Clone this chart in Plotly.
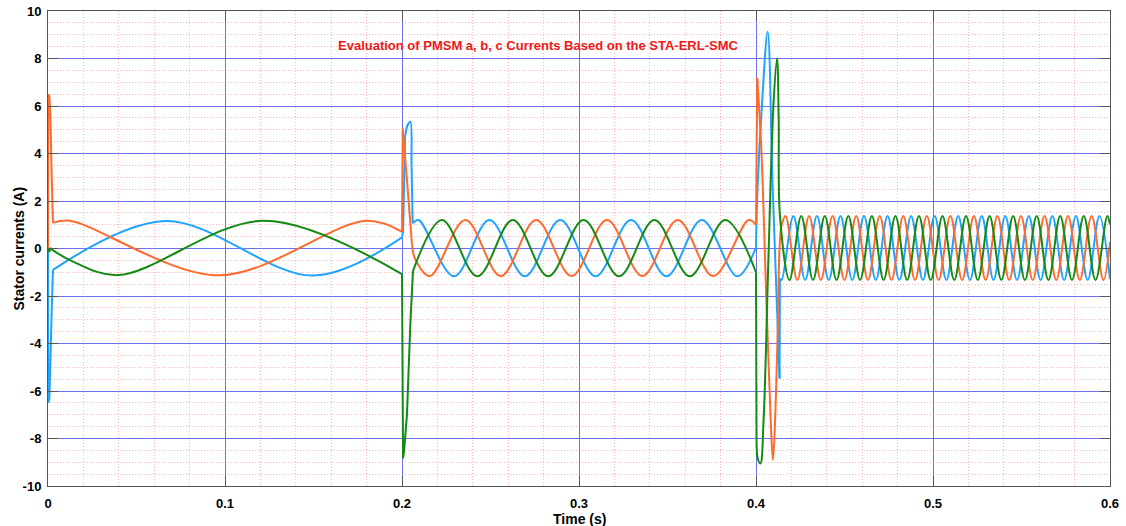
import plotly.graph_objects as go

# ---------------- data ----------------
# Phase a (orange)
a_t_start = [0, 0.0002, 0.0008, 0.0014, 0.0021, 0.0028]
a_v_start = [0, 6.5, 6.4, 5.4, 3.0, 1.08]
a_t_seg1 = [0.0028, 0.0123, 0.0965, 0.1800, 0.2000]
a_v_seg1 = [1.08, 1.17, -1.13, 1.17, 0.70]
a_t_jump2 = [0.2000, 0.2002, 0.2004, 0.2030, 0.2056]
a_v_jump2 = [0.70, 4.6, 5.06, 2.7, 0.2]
a_t_seg2 = [0.2056, 0.2075, 0.2158, 0.2358, 0.2558, 0.2758, 0.2958, 0.3158,
            0.3358, 0.3558, 0.3758, 0.3958, 0.4000]
a_v_seg2 = [0.2, -0.45, -1.16, 1.2, -1.16, 1.2, -1.16, 1.2,
            -1.16, 1.2, -1.16, 1.2, 1.0]
a_t_jump3 = [0.4000, 0.4004, 0.4007]
a_v_jump3 = [1.0, 5.5, 7.17]
a_t_seg3 = [0.4007, 0.4030, 0.4060, 0.4085, 0.4096, 0.4110, 0.4123, 0.4133, 0.4145,
            0.4167, 0.42335, 0.4300, 0.43665, 0.4433, 0.44995, 0.4566, 0.46325,
            0.4699, 0.47655, 0.4832, 0.48985, 0.4965, 0.50315, 0.5098, 0.51645,
            0.5231, 0.52975, 0.5364, 0.54305, 0.5497, 0.55635, 0.5630, 0.56965,
            0.5763, 0.58295, 0.5896, 0.59625, 0.6]
a_v_seg3 = [7.17, 4.2, -2.5, -7.6, -8.91, -6.8, -3.3, 0.0, 1.0,
            1.37, -1.33, 1.37, -1.33, 1.37, -1.33, 1.37, -1.33,
            1.37, -1.33, 1.37, -1.33, 1.37, -1.33, 1.37, -1.33,
            1.37, -1.33, 1.37, -1.33, 1.37, -1.33, 1.37, -1.33,
            1.37, -1.33, 1.37, -1.33, 0.27]

# Phase b (blue)
b_t_start = [0, 0.0002, 0.0008, 0.0014, 0.0021, 0.0028]
b_v_start = [0, -6.5, -6.3, -5.0, -2.6, -0.9]
b_t_seg1 = [0.0028, 0.0663, 0.1500, 0.2000]
b_v_seg1 = [-0.9, 1.16, -1.14, 0.47]
b_t_jump2 = [0.2000, 0.2006, 0.2012, 0.2017]
b_v_jump2 = [0.47, 0.7, 2.8, 4.7]
b_t_peak2 = [0.2017, 0.2032, 0.2047, 0.2054, 0.2060]
b_v_peak2 = [4.7, 5.2, 5.34, 3.5, 1.06]
b_t_seg2 = [0.2060, 0.2094, 0.2294, 0.2494, 0.2694, 0.2894, 0.3094, 0.3294,
            0.3494, 0.3694, 0.3894, 0.4000]
b_v_seg2 = [1.06, 1.2, -1.17, 1.2, -1.17, 1.2, -1.17, 1.2,
            -1.17, 1.2, -1.17, 0.05]
b_t_peak3 = [0.4000, 0.4009, 0.4034, 0.4066, 0.4094, 0.4133]
b_v_peak3 = [0.05, 2.6, 6.1, 9.13, 2.6, -5.47]
b_t_jump3 = [0.4133, 0.4135]
b_v_jump3 = [-5.47, -1.25]
b_t_seg3 = [0.4135, 0.41448, 0.42113, 0.42778, 0.43443, 0.44108, 0.44773, 0.45438,
            0.46103, 0.46768, 0.47433, 0.48098, 0.48763, 0.49428, 0.50093, 0.50758,
            0.51423, 0.52088, 0.52753, 0.53418, 0.54083, 0.54748, 0.55413, 0.56078,
            0.56743, 0.57408, 0.58073, 0.58738, 0.59403, 0.6]
b_v_seg3 = [-1.25, -1.33, 1.37, -1.33, 1.37, -1.33, 1.37, -1.33,
            1.37, -1.33, 1.37, -1.33, 1.37, -1.33, 1.37, -1.33,
            1.37, -1.33, 1.37, -1.33, 1.37, -1.33, 1.37, -1.33,
            1.37, -1.33, 1.37, -1.33, 1.37, -1.29]

# Phase c (green)
c_t_start = [0, 0.0007, 0.0013, 0.0022]
c_v_start = [0, -0.15, 0.02, -0.05]
c_t_seg1 = [0.0022, 0.0136, 0.0397, 0.1220, 0.2000]
c_v_seg1 = [-0.05, -0.53, -1.12, 1.17, -1.08]
c_t_jump2 = [0.2000, 0.2003, 0.2006, 0.2012, 0.2028, 0.2047, 0.2056, 0.2062]
c_v_jump2 = [-1.08, -7.5, -8.84, -8.5, -7.0, -3.2, -1.33, -0.95]
c_t_seg2 = [0.2062, 0.2226, 0.2426, 0.2626, 0.2826, 0.3026, 0.3226, 0.3426,
            0.3626, 0.3826, 0.4000]
c_v_seg2 = [-0.95, 1.2, -1.17, 1.2, -1.17, 1.2, -1.17, 1.2,
            -1.17, 1.2, -1.0]
c_t_jump3 = [0.4000, 0.4003]
c_v_jump3 = [-1.0, -8.0]
c_t_seg3 = [0.4003, 0.4010, 0.4025, 0.4043, 0.4071, 0.4099, 0.4119, 0.4128, 0.4136,
            0.41892, 0.42557, 0.43222, 0.43887, 0.44552, 0.45217, 0.45882, 0.46547,
            0.47212, 0.47877, 0.48542, 0.49207, 0.49872, 0.50537, 0.51202, 0.51867,
            0.52532, 0.53197, 0.53862, 0.54527, 0.55192, 0.55857, 0.56522, 0.57187,
            0.57852, 0.58517, 0.59182, 0.59847, 0.6]
c_v_seg3 = [-8.0, -8.85, -9.05, -7.2, -0.2, 6.1, 8.01, 5.5, 1.3,
            -1.33, 1.37, -1.33, 1.37, -1.33, 1.37, -1.33, 1.37,
            -1.33, 1.37, -1.33, 1.37, -1.33, 1.37, -1.33, 1.37,
            -1.33, 1.37, -1.33, 1.37, -1.33, 1.37, -1.33, 1.37,
            -1.33, 1.37, -1.33, 1.37, 1.01]

x_tickvals = [0, 0.1, 0.2, 0.3, 0.4, 0.5, 0.6]
x_ticktext = ["0", "0.1", "0.2", "0.3", "0.4", "0.5", "0.6"]
y_tickvals = [-10, -8, -6, -4, -2, 0, 2, 4, 6, 8, 10]
y_ticktext = ["-10", "-8", "-6", "-4", "-2", "0", "2", "4", "6", "8", "10"]

title_text = "Evaluation of PMSM a, b, c Currents Based on the STA-ERL-SMC"
x_title = "Time (s)"
y_title = "Stator currents (A)"

# ---------------- figure ----------------
ORANGE = "#FF6A2E"
BLUE = "#1EA3FF"
GREEN = "#138A13"

pieces = [
    (b_t_start, b_v_start, BLUE, "linear"),
    (b_t_seg1, b_v_seg1, BLUE, "spline"),
    (b_t_jump2, b_v_jump2, BLUE, "linear"),
    (b_t_peak2, b_v_peak2, BLUE, "spline"),
    (b_t_seg2, b_v_seg2, BLUE, "spline"),
    (b_t_peak3, b_v_peak3, BLUE, "spline"),
    (b_t_jump3, b_v_jump3, BLUE, "linear"),
    (b_t_seg3, b_v_seg3, BLUE, "spline"),
    (a_t_start, a_v_start, ORANGE, "linear"),
    (a_t_seg1, a_v_seg1, ORANGE, "spline"),
    (a_t_jump2, a_v_jump2, ORANGE, "linear"),
    (a_t_seg2, a_v_seg2, ORANGE, "spline"),
    (a_t_jump3, a_v_jump3, ORANGE, "linear"),
    (a_t_seg3, a_v_seg3, ORANGE, "spline"),
    (c_t_start, c_v_start, GREEN, "linear"),
    (c_t_seg1, c_v_seg1, GREEN, "spline"),
    (c_t_jump2, c_v_jump2, GREEN, "linear"),
    (c_t_seg2, c_v_seg2, GREEN, "spline"),
    (c_t_jump3, c_v_jump3, GREEN, "linear"),
    (c_t_seg3, c_v_seg3, GREEN, "spline"),
]

fig = go.Figure()
for t, v, col, shape in pieces:
    assert len(t) == len(v), (len(t), len(v))
    line = dict(color=col, width=2, shape=shape)
    if shape == "spline":
        line["smoothing"] = 1.0
    fig.add_trace(go.Scatter(x=t, y=v, mode="lines", line=line,
                             showlegend=False, hoverinfo="skip"))

tickfont = dict(family="Liberation Sans, Arial, sans-serif", size=13,
                color="black", weight="bold")
minor_grid = dict(showgrid=True, gridcolor="rgba(255,110,110,0.5)",
                  griddash="1px,2px", gridwidth=1, ticks="")
common = dict(showgrid=True, gridcolor="#6E6EF0", gridwidth=1,
              ticks="inside", ticklen=10, tickcolor="#555555", tickwidth=1,
              showline=True, linecolor="#555555", linewidth=1, mirror="ticks",
              zeroline=False, tickfont=tickfont, tickmode="array",
              automargin=False)

fig.update_xaxes(range=[0, 0.6], tickvals=x_tickvals, ticktext=x_ticktext,
                 ticklabelstandoff=5,
                 minor=dict(tick0=0, dtick=0.02, **minor_grid),
                 **common)
fig.update_yaxes(range=[-10, 10], tickvals=y_tickvals, ticktext=y_ticktext,
                 ticklabelstandoff=3,
                 minor=dict(tick0=0, dtick=0.5, **minor_grid),
                 **common)

label_font = dict(family="Liberation Sans, Arial", size=14, color="black",
                  weight="bold")
# axis titles placed as annotations (paper coords: plot spans x 48..1110, y 11..486 px)
fig.add_annotation(text=x_title, xref="paper", yref="paper",
                   x=0.5, y=-0.070, xanchor="center", yanchor="middle",
                   showarrow=False, font=label_font)
fig.add_annotation(text=y_title, xref="paper", yref="paper",
                   x=-0.0282, y=0.5, xanchor="center", yanchor="middle",
                   textangle=-90, showarrow=False, font=label_font)

fig.add_annotation(text=title_text, xref="paper", yref="paper",
                   x=0.4617, y=0.947, showarrow=False,
                   font=dict(family="Liberation Sans, Arial", size=13,
                             color="#F01818", weight="bold"))

fig.update_layout(width=1126, height=526,
                  margin=dict(l=48, r=16, t=11, b=40),
                  plot_bgcolor="white", paper_bgcolor="white")

fig.write_html("out.html")
